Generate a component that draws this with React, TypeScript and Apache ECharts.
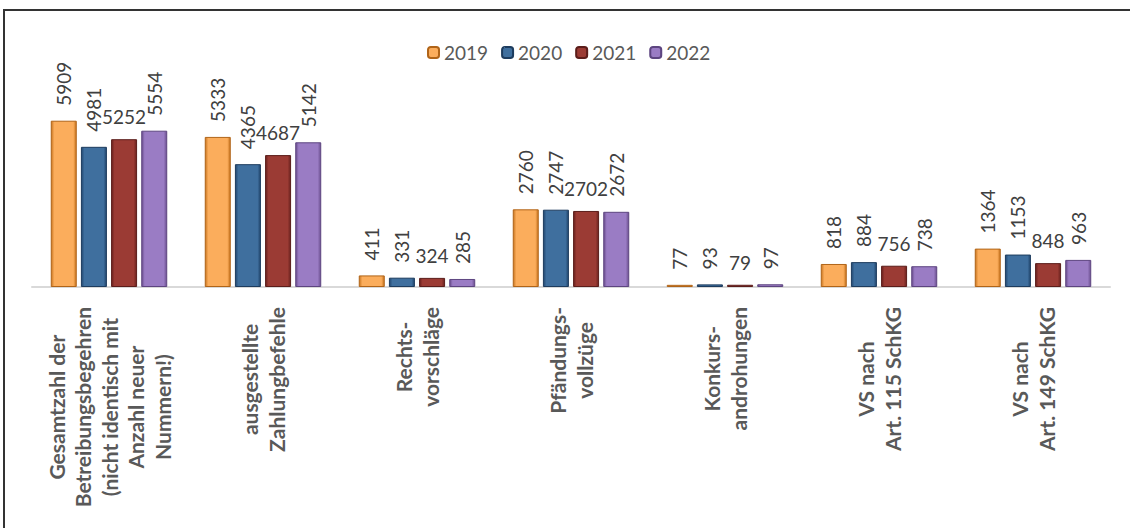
import React, { useEffect, useRef } from "react";
import * as echarts from "echarts";

const categories = [
  "Gesamtzahl der\nBetreibungsbegehren\n(nicht identisch mit\nAnzahl neuer\nNummern!)",
  "ausgestellte\nZahlungbefehle",
  "Rechts-\nvorschläge",
  "Pfändungs-\nvollzüge",
  "Konkurs-\nandrohungen",
  "VS nach\nArt. 115 SchKG",
  "VS nach\nArt. 149 SchKG",
];
const years = ["2019", "2020", "2021", "2022"];
const values2019 = [5909, 5333, 411, 2760, 77, 818, 1364];
const values2020 = [4981, 4365, 331, 2747, 93, 884, 1153];
const values2021 = [5252, 4687, 324, 2702, 79, 756, 848];
const values2022 = [5554, 5142, 285, 2672, 97, 738, 963];
const seriesValues = [values2019, values2020, values2021, values2022];

const palettes = [
  { edge: "#c8741e", mid: "#fbad5c", light: "#ffd59e", border: "#b06418" },
  { edge: "#22476f", mid: "#3f6f9e", light: "#7aa2cc", border: "#1d3c5e" },
  { edge: "#6a221e", mid: "#9b3b34", light: "#c87a72", border: "#5b1d1a" },
  { edge: "#6a4e8e", mid: "#9a7cc4", light: "#c8b2e6", border: "#5d4580" },
];

function grad(p: any) {
  return new echarts.graphic.LinearGradient(0, 0, 1, 0, [
    { offset: 0, color: p.edge },
    { offset: 0.12, color: p.mid },
    { offset: 0.5, color: p.mid },
    { offset: 0.88, color: p.mid },
    { offset: 1, color: p.edge },
  ]);
}

export default function App() {
  const ref = useRef<HTMLDivElement>(null);
  useEffect(() => {
    document.body.style.margin = "0";
    const chart = echarts.init(ref.current!, null, { renderer: "svg" });
    const series = years.map((y, i) => {
      const horizontal = i === 2;
      return {
        name: y,
        type: "bar",
        data: seriesValues[i],
        barWidth: 26,
        barGap: "16%",
        itemStyle: {
          color: grad(palettes[i]),
          borderColor: palettes[i].border,
          borderWidth: 1,
        },
        label: horizontal
          ? {
              show: true,
              position: "top",
              distance: 13,
              fontFamily: "Lato",
              fontSize: 19,
              color: "#404040",
            }
          : {
              show: true,
              position: "top",
              distance: 15,
              rotate: 90,
              align: "left",
              verticalAlign: "middle",
              fontFamily: "Lato",
              fontSize: 19,
              color: "#404040",
            },
      };
    });
    chart.setOption({
      animation: false,
      backgroundColor: "#ffffff",
      legend: {
        data: years,
        top: 38,
        left: 422,
        itemWidth: 11,
        itemHeight: 11,
        itemGap: 13,
        textStyle: { fontFamily: "Lato", fontSize: 19, color: "#595959" },
      },
      grid: { left: 32, right: 20, top: 90, bottom: 241, containLabel: false },
      xAxis: {
        type: "category",
        data: categories,
        axisTick: { show: false },
        axisLine: { lineStyle: { color: "#d9d9d9", width: 2 } },
        axisLabel: {
          interval: 0,
          rotate: 90,
          margin: 20,
          formatter: (v: string) =>
            v.split("\n").map((l) => `{c|${l}}`).join("\n"),
          rich: {
            c: {
              align: "center",
              fontFamily: "Lato",
              fontWeight: "bold",
              fontSize: 21,
              lineHeight: 26.5,
              color: "#595959",
            },
          },
        },
      },
      yAxis: {
        type: "value",
        min: 0,
        max: 7000,
        show: false,
        splitLine: { show: false },
      },
      graphic: [
        { type: "line", shape: { x1: 3, y1: 10, x2: 1130, y2: 10 }, style: { stroke: "#333333", lineWidth: 2 } },
        { type: "line", shape: { x1: 4, y1: 9, x2: 4, y2: 528 }, style: { stroke: "#333333", lineWidth: 2 } },
      ],
      series,
    });
    return () => chart.dispose();
  }, []);
  return <div ref={ref} style={{ width: 1130, height: 528 }} />;
}
